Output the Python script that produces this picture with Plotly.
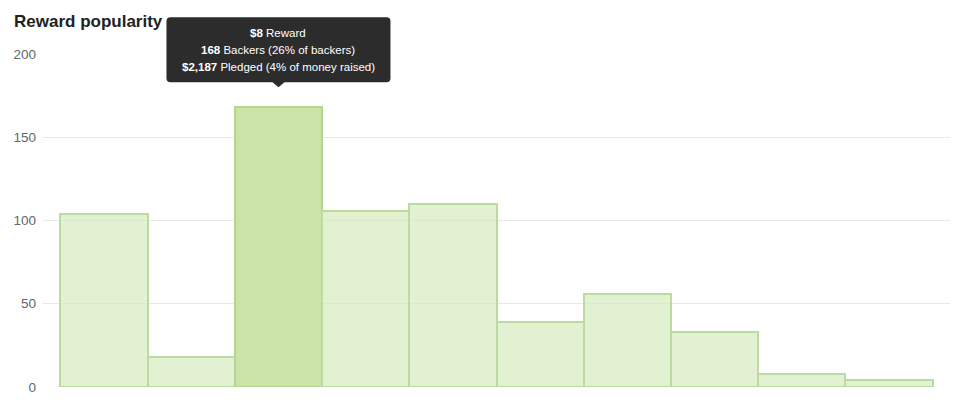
import plotly.graph_objects as go

# ---- data ----
bar_index = list(range(10))
backers = [104, 18, 168, 106, 110, 39, 56, 33, 8, 4]
highlight_index = 2
y_tick_vals = [0, 50, 100, 150, 200]
y_tick_text = ["0", "50", "100", "150", "200"]
grid_vals = [50, 100, 150]
tooltip_lines = ["<b>$8</b> Reward",
                 "<b>168</b> Backers (26% of backers)",
                 "<b>$2,187</b> Pledged (4% of money raised)"]
title_text = "<b>Reward popularity</b>"

FONT = "Liberation Sans, Arial, Helvetica, sans-serif"
fill_normal = "rgba(212,235,190,0.70)"
fill_high = "#c9e3a9"
line_normal = "#bcdba0"
line_high = "#b3d68f"
TIP_BG = "#2c2c2c"

fills = [fill_high if i == highlight_index else fill_normal for i in bar_index]
lines = [line_high if i == highlight_index else line_normal for i in bar_index]

# page body has an 8px margin, so the figure is sized to fit the window
W, H = 972, 401
X_RANGE = [-0.7, 9.7]
Y_RANGE = [0, 200]

fig = go.Figure()
fig.add_trace(go.Bar(
    x=bar_index, y=backers,
    marker=dict(color=fills, line=dict(color=lines, width=2)),
    width=1.0,
    hoverinfo="skip",
    showlegend=False,
))
# invisible trace carrying the grid axis
fig.add_trace(go.Scatter(x=[None], y=[None], yaxis="y2", showlegend=False,
                         hoverinfo="skip", mode="markers"))

fig.update_layout(
    width=W, height=H,
    margin=dict(l=35, r=30, t=46, b=22),
    paper_bgcolor="white", plot_bgcolor="rgba(0,0,0,0)",
    bargap=0,
    font=dict(family=FONT),
    xaxis=dict(range=X_RANGE, showticklabels=False, showgrid=False,
               zeroline=False, showline=False, ticks="", automargin=False),
    yaxis=dict(range=Y_RANGE, tickvals=y_tick_vals, ticktext=y_tick_text,
               showgrid=False, zeroline=False, showline=False, ticks="",
               tickfont=dict(size=13.5, color="#666666"), ticklabelstandoff=6,
               automargin=False),
    yaxis2=dict(range=Y_RANGE, overlaying="y", tickvals=grid_vals,
                showticklabels=False, showgrid=True, gridcolor="#e8e8e8",
                gridwidth=1, zeroline=False, showline=False, ticks="",
                automargin=False),
    title=dict(text=title_text, x=6/W, xanchor="left", xref="container",
               y=1-13/H, yanchor="middle", yref="container",
               font=dict(size=17, color="#222222", family=FONT)),
)

hx = bar_index[highlight_index]
hy = backers[highlight_index]
# anchor of the tooltip (top centre of the highlighted bar) in paper units
px = (hx - X_RANGE[0]) / (X_RANGE[1] - X_RANGE[0])
py = (hy - Y_RANGE[0]) / (Y_RANGE[1] - Y_RANGE[0])

# tooltip box with rounded corners and pointer (pixel offsets from bar top)
fig.add_shape(
    type="path", xref="paper", yref="paper",
    xsizemode="pixel", ysizemode="pixel",
    xanchor=px, yanchor=py,
    path=("M -108 25 L -6 25 L 0 20 L 6 25 L 108 25 Q 112 25 112 29 "
          "L 112 86 Q 112 90 108 90 L -108 90 Q -112 90 -112 86 "
          "L -112 29 Q -112 25 -108 25 Z"),
    fillcolor=TIP_BG, line=dict(width=0),
)
# tooltip text lines
for line_text, shift in zip(tooltip_lines, [74, 57, 40]):
    fig.add_annotation(
        x=hx, y=hy, xref="x", yref="y",
        text=line_text, showarrow=False,
        xanchor="center", yanchor="middle", yshift=shift,
        font=dict(size=11.5, color="white", family=FONT),
    )

fig.write_html("out.html")
